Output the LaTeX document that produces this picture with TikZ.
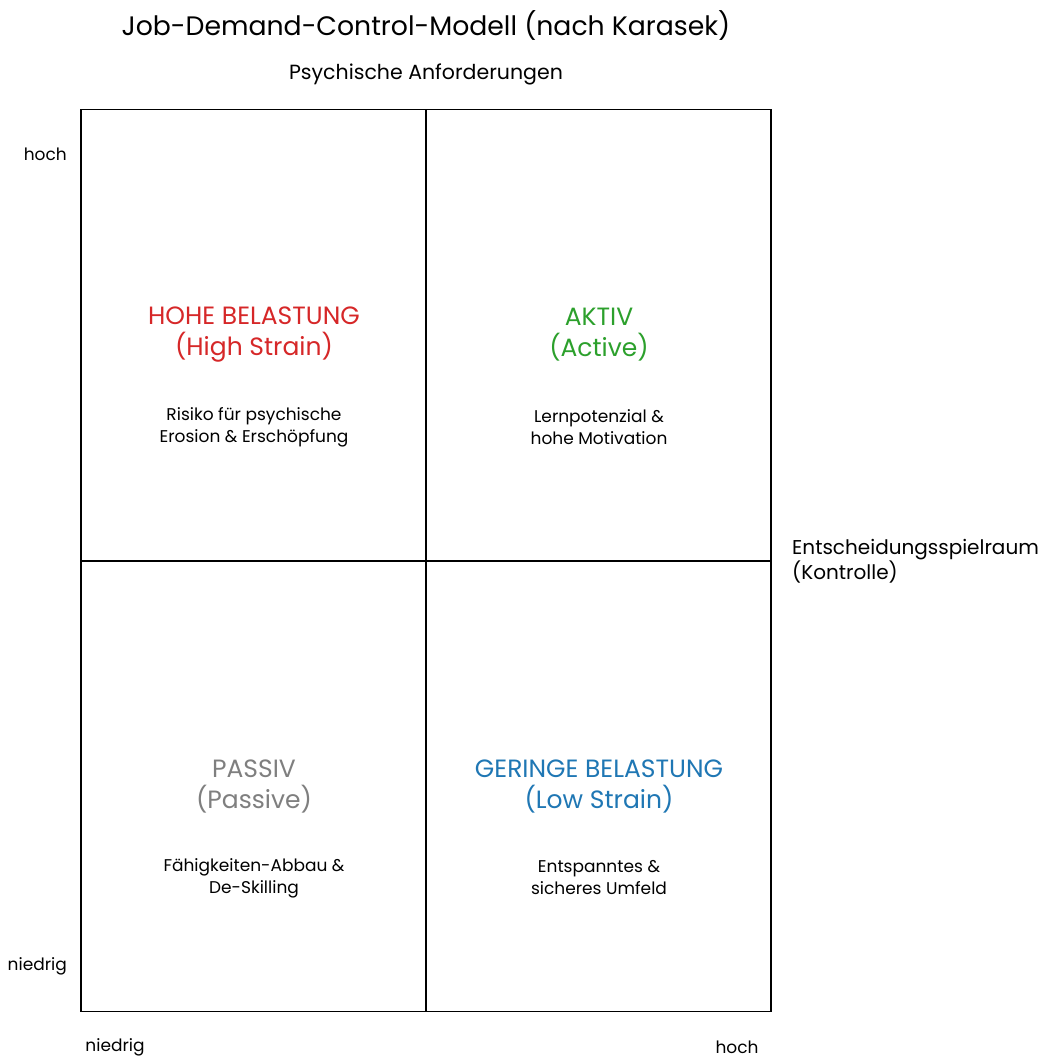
\documentclass[tikz,border=0pt]{standalone}
\usepackage{fontspec}
\setmainfont{Poppins}
\definecolor{cred}{HTML}{D62728}
\definecolor{cgreen}{HTML}{2CA02C}
\definecolor{cgray}{HTML}{7F7F7F}
\definecolor{cblue}{HTML}{1F77B4}
\begin{document}
\begin{tikzpicture}[x=1pt,y=-1pt,
  lbl/.style={inner sep=0pt,font=\fontsize{17}{21}\selectfont},
  qtitle/.style={inner sep=0pt,align=center,font=\fontsize{25}{31}\selectfont},
  qdesc/.style={inner sep=0pt,align=center,font=\fontsize{17}{22}\selectfont},
  grid/.style={draw=black,line width=1.2pt}]
\useasboundingbox[fill=white] (0,0) rectangle (1046,1059);
% grid
\node[grid,minimum width=690pt,minimum height=902pt,inner sep=0pt] (box) at (426,560.5) {};
\coordinate (mt) at (426,110); \coordinate (mb) at (426,1011);
\coordinate (ml) at (81,561); \coordinate (mr) at (771,561);
\draw[grid] (mt) -- (mb);
\draw[grid] (ml) -- (mr);
% titles
\node[inner sep=0pt,font=\fontsize{26.7}{30}\selectfont] (title) at (426,26) {Job-Demand-Control-Modell (nach Karasek)};
\node[lbl,font=\fontsize{20.5}{24}\selectfont] (ylab) at (426,74) {Psychische Anforderungen};
\node[lbl,anchor=east] (yhigh) at (67,154) {hoch};
\node[lbl,anchor=east] (ylow) at (67,966) {niedrig};
\node[lbl] (xlow) at (115,1047) {niedrig};
\node[lbl] (xhigh) at (737,1047) {hoch};
\node[lbl,anchor=west,align=left,font=\fontsize{20}{25}\selectfont] (xlab) at (792,561) {Entscheidungsspielraum\\(Kontrolle)};
% quadrants
\node[qtitle,text=cred] (q1t) at (254,335) {HOHE BELASTUNG\\(High Strain)};
\node[qdesc] (q1d) at (254,427) {Risiko für psychische\\Erosion \& Erschöpfung};
\node[qtitle,text=cgreen] (q2t) at (599,335) {AKTIV\\(Active)};
\node[qdesc] (q2d) at (599,427) {Lernpotenzial \&\\hohe Motivation};
\node[qtitle,text=cgray] (q3t) at (254,786) {PASSIV\\(Passive)};
\node[qdesc] (q3d) at (254,878) {Fähigkeiten-Abbau \&\\De-Skilling};
\node[qtitle,text=cblue] (q4t) at (599,786) {GERINGE BELASTUNG\\(Low Strain)};
\node[qdesc] (q4d) at (599,878) {Entspanntes \&\\sicheres Umfeld};
\end{tikzpicture}
\end{document}
